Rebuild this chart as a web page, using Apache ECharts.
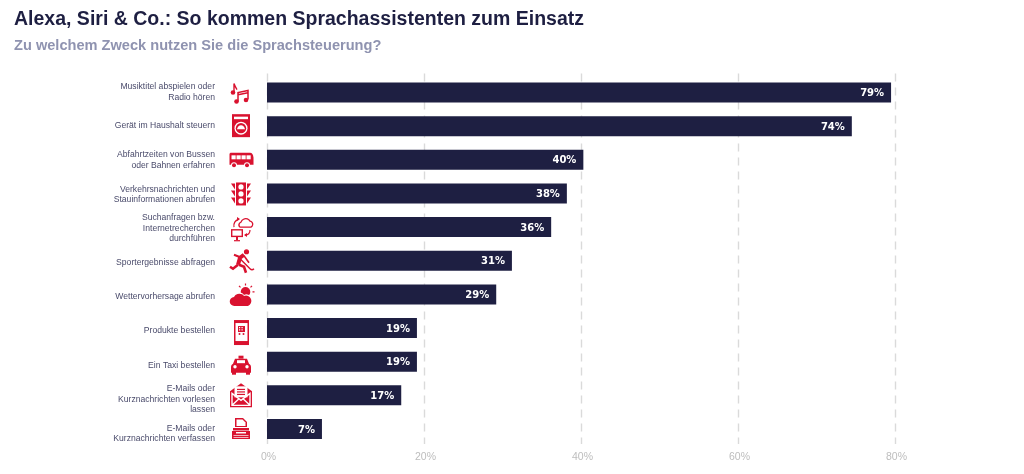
<!DOCTYPE html>
<html><head><meta charset="utf-8">
<style>html,body{margin:0;padding:0;background:#fff}#c{width:1024px;height:474px}</style>
<script src="https://cdn.jsdelivr.net/npm/echarts@6/dist/echarts.min.js"></script>
</head><body><div id="c"></div>
<script>
const categories = [
  'Musiktitel abspielen oder\nRadio hören',
  'Gerät im Haushalt steuern',
  'Abfahrtzeiten von Bussen\noder Bahnen erfahren',
  'Verkehrsnachrichten und\nStauinformationen abrufen',
  'Suchanfragen bzw.\nInternetrecherchen\ndurchführen',
  'Sportergebnisse abfragen',
  'Wettervorhersage abrufen',
  'Produkte bestellen',
  'Ein Taxi bestellen',
  'E-Mails oder\nKurznachrichten vorlesen\nlassen',
  'E-Mails oder\nKurznachrichten verfassen'
];
const values = [79.5, 74.5, 40.3, 38.2, 36.2, 31.2, 29.2, 19.1, 19.1, 17.1, 7.0];
const valueLabels = ['79%','74%','40%','38%','36%','31%','29%','19%','19%','17%','7%'];
const titleText = 'Alexa, Siri & Co.: So kommen Sprachassistenten zum Einsatz';
const subtitleText = 'Zu welchem Zweck nutzen Sie die Sprachsteuerung?';

const RED = '#d9122f', NAVY = '#1e1f42', W = '#fff';
const c = (x,y,r) => `M${x-r} ${y}a${r} ${r} 0 1 0 ${2*r} 0a${r} ${r} 0 1 0 ${-2*r} 0Z`;
const r = (x,y,w,h) => `M${x} ${y}h${w}v${h}h${-w}Z`;
const F = (d,fill=RED) => ({d,fill});
const S = (d,w=1.4,stroke=RED) => ({d,stroke,w});
const icons = [
  [S('M-7 -9V0M-7 -9Q-6 -6 -4 -3'),F(c(-8,0,2.3)),S('M-3 9V0L7 -2V7M-3 2.2L7 0.2',1.5),F(c(-4.5,9,2.3)),F(c(5,7.5,2.3))],
  [F(r(-9,-12,18,23)),F(r(-7,-9.5,14,2.5),W),F(c(0,2,6.5),W),F(c(0,2,5.2)),F('M-4 3Q-3 -1 0 -1Q3 -1 4 3Z',W)],
  [F('M-10.5 -7H9Q12 -7 12.5 -2V5H-11.5V-6Z'),F(r(-9.5,-4.5,4.2,4),W),F(r(-4.5,-4.5,4.2,4),W),F(r(0.5,-4.5,4.2,4),W),F(r(5.5,-4.5,4.2,4),W),F(c(-7,5.5,3),W),F(c(6,5.5,3),W),F(c(-7,5.5,2)),F(c(6,5.5,2))],
  [F(r(-5,-11,10,23)),F(c(0,-6.5,2.6),W),F(c(0,0.5,2.6),W),F(c(0,7.5,2.6),W),
   F('M-6 -10H-10L-6 -4ZM6 -10H10L6 -4ZM-6 -3H-10L-6 3ZM6 -3H10L6 3ZM-6 4H-10L-6 10ZM6 4H10L6 10Z')],
  [S('M-1 0A3 3 0 0 1 0 -5A5 5 0 0 1 9 -6A3.2 3.2 0 0 1 10 0Z',1.3),F(r(-10,2,12,8)),F(r(-8.6,3.4,9.2,5.2),W),F(r(-5,10,2,3)),F(r(-7,13,6,1.2)),
   S('M-7 0Q-8 -6 -2 -8',1.2),F('M-1 -8L-4 -10V-6Z'),S('M4 8Q9 8 9 3',1.2),F('M3 8L6 6V10Z')],
  [F(c(5.5,-9,2.6)),S('M3 -6L-1 -3L-3 4',4),S('M-2 -4L-7 -6',2),S('M3 -5L8 2',1.6),S('M-3 4L-8 8L-11 6',2.6),S('M-2 4L3 6L5 12',2.6),S('M-1 -2L9 8Q11 10 13 8',1.4)],
  [F(c(4.5,-2.5,4.8)),S('M4.5 -11V-9M11 -8.5L9.5 -7M13.5 -2.5H11.5M-2 -8.5L-.5 -7',1.2),F('M-7 11A4.5 4.5 0 0 1 -7.5 2A6 6 0 0 1 3 0.5A5 5 0 0 1 8 11Z',W),F('M-6.5 11.5A4.5 4.5 0 0 1 -7 2.5A6 6 0 0 1 3 1.5A5 5 0 0 1 7 11.5Z')],
  [F(r(-7,-8,15,25)),F(r(-5.5,-5,12,18),W),F(r(-3,-2,7,6)),F(r(-2,-1,1.2,1.2),W),F(r(0.5,-1,1.2,1.2),W),F(r(-2,1.2,1.2,1.2),W),F(r(0.5,1.2,1.2,1.2),W),F(c(-1.5,6,1)),F(c(2.5,6,1))],
  [F(r(-2.5,-6,5,3)),F('M-6 -3H6L8 2Q10 3 10 5V11H-10V5Q-10 3 -8 2Z'),F(r(-4,-1.5,8,3),W),F(c(-6,5,1.7),W),F(c(6,5,1.7),W),F(r(-9,10,4,3)),F(r(5,10,4,3))],
  [F('M0 -12L11 -4V12H-11V-4Z'),F(r(-6.5,-9,13,11),W),F(r(-4,-6.5,8,1.2)),F(r(-4,-4,8,1.2)),F(r(-4,-1.5,8,1.2)),S('M-9 -2L0 5L9 -2V10H-9ZM-9 10L-2 3.5M9 10L2 3.5',1.4,W)],
  [F('M-6 -11H2L6 -7V-2H-6Z'),F('M-4.5 -9.5H1.5L4.5 -6.5V-3H-4.5Z',W),F(r(-8,-1,16,2.5)),F(r(-9,2,18,8)),F(r(-5,3,10,1.5),W),S('M-7.5 6.5H7.5M-7.5 8.5H7.5',.7,W)]
];

const hiddenAxis = {axisLine: {show: false}, axisTick: {show: false}, splitLine: {show: false}, axisLabel: {show: false}};
const chart = echarts.init(document.getElementById('c'));
chart.setOption({
  animation: false,
  backgroundColor: '#fff',
  title: {
    left: 9, top: 5, itemGap: 8,
    text: titleText, subtext: subtitleText,
    textStyle: {fontFamily: 'Liberation Sans', fontWeight: 'bold', fontSize: 19.5, color: NAVY},
    subtextStyle: {fontFamily: 'Liberation Sans', fontWeight: 'bold', fontSize: 14.6, color: '#8f93b0'}
  },
  grid: [
    {left: 267, right: 129, top: 75.7, bottom: 28.2},
    {left: 267, right: 129, top: 73.5, bottom: 30},
    {left: 267, right: 129, top: 74.9, bottom: 23.5}
  ],
  xAxis: [
    {type: 'value', gridIndex: 0, min: 0, max: 80, interval: 20, ...hiddenAxis},
    {type: 'value', gridIndex: 1, min: 0, max: 80, interval: 20,
     axisLine: {show: false}, axisTick: {show: false},
     splitLine: {show: true, lineStyle: {color: '#dadada', type: [8, 6], width: 1.4}},
     axisLabel: {formatter: '{value}%', color: '#bdbdbd', fontSize: 10.5, fontFamily: 'Liberation Sans', margin: 8, padding: [0,0,0,3]}},
    {type: 'value', gridIndex: 2, min: 0, max: 80, interval: 20, ...hiddenAxis}
  ],
  yAxis: [
    {type: 'category', gridIndex: 0, inverse: true, data: categories, ...hiddenAxis},
    {type: 'category', gridIndex: 1, inverse: true, data: categories, ...hiddenAxis},
    {type: 'category', gridIndex: 2, inverse: true, data: categories,
     axisLine: {show: false}, axisTick: {show: false},
     axisLabel: {margin: 52, color: '#4a4b6b', fontSize: 8.6, lineHeight: 10.5, fontFamily: 'Liberation Sans', align: 'right'}}
  ],
  series: [{
    type: 'bar', xAxisIndex: 0, yAxisIndex: 0, data: values, barWidth: 20, z: 3,
    itemStyle: {color: NAVY},
    label: {show: true, position: 'insideRight', distance: 7, offset: [0, 1], color: '#fff', fontFamily: 'DejaVu Sans', fontWeight: 'bold', fontSize: 10,
      formatter: p => valueLabels[p.dataIndex]}
  }, {
    type: 'custom', xAxisIndex: 0, yAxisIndex: 0, clip: false, silent: true, z: 4,
    data: categories.map((_, i) => [0, i]),
    encode: {x: 0, y: 1},
    renderItem(params, api) {
      const p = api.coord([0, api.value(1)]);
      return {
        type: 'group', x: p[0] - 26, y: p[1],
        children: icons[params.dataIndex].map(l => ({
          type: 'path',
          shape: {pathData: l.d},
          style: l.stroke ? {fill: null, stroke: l.stroke, lineWidth: l.w} : {fill: l.fill}
        }))
      };
    }
  }]
});
</script></body></html>
